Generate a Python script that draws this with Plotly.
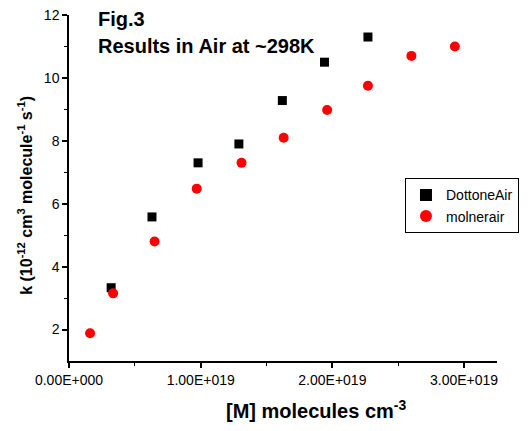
import plotly.graph_objects as go

# Data
dottone_x = [0.32e19, 0.63e19, 0.98e19, 1.29e19, 1.62e19, 1.94e19, 2.27e19]
dottone_k = [3.33, 5.58, 7.30, 7.90, 9.28, 10.50, 11.30]

molner_x = [0.16e19, 0.335e19, 0.65e19, 0.97e19, 1.31e19, 1.63e19, 1.96e19, 2.27e19, 2.60e19, 2.93e19]
molner_k = [1.88, 3.15, 4.80, 6.48, 7.30, 8.10, 8.98, 9.75, 10.70, 11.00]

x_tickvals = [0, 1e19, 2e19, 3e19]
x_ticktext = ["0.00E+000", "1.00E+019", "2.00E+019", "3.00E+019"]
y_tickvals = [2, 4, 6, 8, 10, 12]

FONT = "Liberation Sans, Arial, sans-serif"

fig = go.Figure()
fig.add_trace(go.Scatter(x=dottone_x, y=dottone_k, mode="markers", name="DottoneAir",
                         marker=dict(symbol="square", size=9, color="black")))
fig.add_trace(go.Scatter(x=molner_x, y=molner_k, mode="markers", name="molnerair",
                         marker=dict(symbol="circle", size=10, color="#ff0000")))

# Title lines
fig.add_annotation(xref="paper", yref="paper", x=0.064, y=0.987, xanchor="left", yanchor="middle",
                   text="<b>Fig.3</b>", showarrow=False,
                   font=dict(family=FONT, size=20, color="black"))
fig.add_annotation(xref="paper", yref="paper", x=0.064, y=0.9104, xanchor="left", yanchor="middle",
                   text="<b>Results in Air at ~298K</b>", showarrow=False,
                   font=dict(family=FONT, size=20, color="black"))

# Axis titles (offset as in the reference)
fig.add_annotation(xref="paper", yref="paper", x=0.577, y=-0.1416, xanchor="center", yanchor="middle",
                   text="<b>[M] molecules cm<sup>-3</sup></b>", showarrow=False,
                   font=dict(family=FONT, size=20, color="black"))
fig.add_annotation(xref="paper", yref="paper", x=-0.103, y=0.48, xanchor="center", yanchor="middle",
                   textangle=-90,
                   text="<b>k (10<sup>-12</sup> cm<sup>3</sup> molecule<sup>-1</sup> s<sup>-1</sup>)</b>",
                   showarrow=False, font=dict(family=FONT, size=16, color="black"))

fig.update_layout(
    width=523, height=423,
    paper_bgcolor="white", plot_bgcolor="white",
    margin=dict(l=61, r=34, t=7, b=70, autoexpand=False),
    font=dict(family=FONT, size=14, color="black"),
    showlegend=True,
    legend=dict(x=0.785, y=0.528, xanchor="left", yanchor="top",
                bordercolor="black", borderwidth=1, bgcolor="white",
                font=dict(family=FONT, size=14, color="black"),
                entrywidth=82, entrywidthmode="pixels",
                itemsizing="constant", tracegroupgap=0),
    xaxis=dict(range=[0, 3.25e19], tickvals=x_tickvals, ticktext=x_ticktext,
               showgrid=False, zeroline=False, showline=True, linecolor="black", linewidth=1.5,
               ticks="outside", ticklen=5, tickwidth=1.5, tickcolor="black",
               ticklabeloverflow="allow",
               minor=dict(tickvals=[0.5e19, 1.5e19, 2.5e19], ticks="outside", ticklen=3, tickwidth=1, tickcolor="black"),
               tickfont=dict(family=FONT, size=14)),
    yaxis=dict(range=[1, 12], tickvals=y_tickvals,
               showgrid=False, zeroline=False, showline=True, linecolor="black", linewidth=1.5,
               ticks="outside", ticklen=5, tickwidth=1.5, tickcolor="black",
               ticklabeloverflow="allow",
               minor=dict(tickvals=[3, 5, 7, 9, 11], ticks="outside", ticklen=3, tickwidth=1, tickcolor="black"),
               tickfont=dict(family=FONT, size=14)),
)

fig.write_html("out.html")
